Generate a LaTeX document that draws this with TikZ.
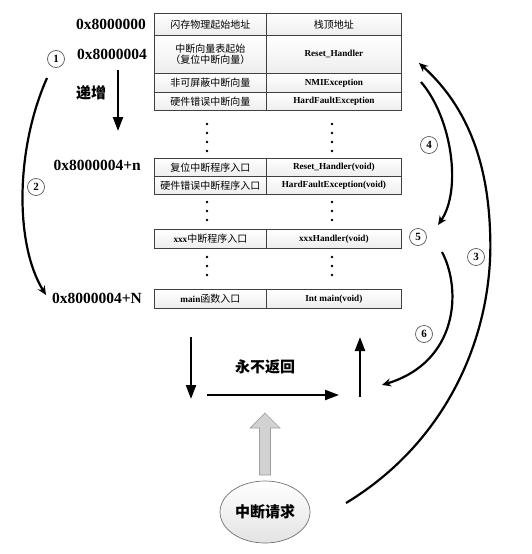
\documentclass[tikz,border=0pt]{standalone}
\usepackage{fontspec}
\setmainfont{Liberation Serif}
\newfontfamily\cjk{Noto Sans CJK SC}
\usetikzlibrary{arrows.meta,shapes.geometric}
\tikzset{
  cell/.style={draw=black!75, line width=0.8pt, top color=white, bottom color=gray!14,
    anchor=north west, inner sep=0pt, align=center, font=\bfseries\fontsize{9.2}{10.5}\selectfont},
  lcell/.style={cell, minimum width=112pt},
  rcell/.style={cell, minimum width=135pt},
  hexlab/.style={anchor=east, font=\bfseries\fontsize{15.5}{17}\selectfont, inner sep=0pt},
  num/.style={circle, draw=black!65, line width=0.7pt, fill=white, minimum size=17pt, inner sep=0pt,
    font=\bfseries\fontsize{11}{12}\selectfont},
  dotm/.style={circle, fill=black, inner sep=0pt, minimum size=2.6pt},
  arc/.style={line width=2.2pt, -{Stealth[length=9pt,width=8pt]}},
  plainarc/.style={line width=2.2pt},
  bigarrow/.style={line width=2.2pt, -{Triangle[length=14pt,width=10pt]}},
  bigtext/.style={font=\cjk\bfseries\fontsize{15}{17}\selectfont},
}
\newcommand{\cellpair}[5]{%
  \node[lcell, minimum height=#3pt] (#1l) at (154,#2) {#4};
  \node[rcell, minimum height=#3pt] (#1r) at (266,#2) {#5};
}
\newcommand{\cjkt}[1]{{\cjk\mdseries\fontsize{10}{12}\selectfont #1}}
\begin{document}
\begin{tikzpicture}[x=1pt,y=-1pt]
\useasboundingbox (0,0) rectangle (531,554);
% table rows
\cellpair{ra}{13}{22}{\cjkt{闪存物理起始地址}}{\cjkt{栈顶地址}}
\cellpair{rb}{35}{38}{\cjkt{中断向量表起始}\\\cjkt{（复位中断向量）}}{Reset\_Handler}
\cellpair{rc}{73}{19}{\cjkt{非可屏蔽中断向量}}{NMIException}
\cellpair{rd}{92}{18}{\cjkt{硬件错误中断向量}}{HardFaultException}
\cellpair{re}{158}{18}{\cjkt{复位中断程序入口}}{Reset\_Handler(void)}
\cellpair{rf}{176}{18}{\cjkt{硬件错误中断程序入口}}{HardFaultException(void)}
\cellpair{rg}{229}{19}{xxx\cjkt{中断程序入口}}{xxxHandler(void)}
\cellpair{rh}{289}{19}{main\cjkt{函数入口}}{Int main(void)}
% dots
\foreach \yy [count=\i] in {124,133,142,151} {
  \node[dotm] (dla\i) at (207,\yy) {};
  \node[dotm] (dra\i) at (332,\yy) {};
}
\foreach \yy [count=\i] in {202,211,220} {
  \node[dotm] (dlb\i) at (207,\yy) {};
  \node[dotm] (drb\i) at (332,\yy) {};
}
\foreach \yy [count=\i] in {257,266,275} {
  \node[dotm] (dlc\i) at (207,\yy) {};
  \node[dotm] (drc\i) at (332,\yy) {};
}
% hex labels
\node[hexlab] (h0) at (146,24) {0x8000000};
\node[hexlab] (h1) at (147,54) {0x8000004};
\node[hexlab] (h2) at (141,165) {0x8000004+n};
\node[hexlab] (h3) at (142,298) {0x8000004+N};
% increment arrow
\coordinate (incs) at (118,70);
\coordinate (ince) at (118,131);
\draw[bigarrow] (incs) -- (ince);
\node[bigtext] (inct) at (91,93) {递增};
% numbered circles
\node[num] (n1) at (56,59) {1};
\node[num] (n2) at (36,187) {2};
\node[num] (n3) at (476,257) {3};
\node[num] (n4) at (429,145) {4};
\node[num] (n5) at (418,237) {5};
\node[num] (n6) at (424,334) {6};
% arc 2
\coordinate (a2s) at (47,78);
\coordinate (a2e) at (46,295);
\draw[arc] (a2s) .. controls (15,150) and (15,245) .. (a2e);
% arc 4
\coordinate (a4s) at (421,82);
\coordinate (a4e) at (438,225);
\draw[arc] (a4s) .. controls (452,118) and (462,190) .. (a4e);
% arc 6
\coordinate (a6s) at (442,252);
\coordinate (a6e) at (382,385);
\draw[arc] (a6s) .. controls (462,290) and (458,362) .. (a6e);
% ellipse
\node[ellipse, draw=black!55, line width=0.7pt, top color=white, bottom color=gray!22,
  minimum width=90pt, minimum height=62pt, inner sep=0pt, font=\cjk\bfseries\fontsize{15}{17}\selectfont] (irq) at (265,512) {中断请求};
% arc 3
\coordinate (a3s) at (346,503);
\coordinate (a3m) at (490,230);
\coordinate (a3e) at (419,63);
\draw[plainarc] (a3s) .. controls (450,440) and (495,330) .. (a3m);
\draw[arc] (a3m) .. controls (487,150) and (460,100) .. (a3e);
% bottom arrows
\coordinate (d1s) at (191,337);
\coordinate (d1e) at (191,399);
\draw[bigarrow] (d1s) -- (d1e);
\coordinate (hs) at (207,395);
\coordinate (he) at (339,395);
\draw[bigarrow] (hs) -- (he);
\coordinate (u1s) at (360,397);
\coordinate (u1e) at (360,337);
\draw[bigarrow] (u1s) -- (u1e);
\node[bigtext] (nret) at (265,367) {永不返回};
% gray block arrow
\draw[fill=gray!35, draw=gray!75, line width=0.7pt]
  (259.5,475) -- (259.5,428) -- (250,428) -- (265,413) -- (280,428) -- (270.5,428) -- (270.5,475) -- cycle;
\end{tikzpicture}
\end{document}
